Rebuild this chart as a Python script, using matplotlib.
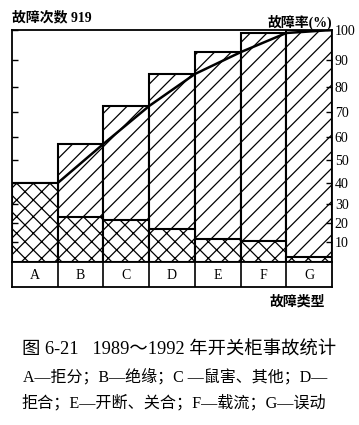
import numpy as np
import matplotlib
matplotlib.use("Agg")
import matplotlib.pyplot as plt

# fault types and shares (%)
types = ["A", "B", "C", "D", "E", "F", "G"]
share = [40, 23.2, 21.6, 16.8, 11.6, 10.5, 2.5]        # cross-hatched part
cum_pct = [40, 57, 72.4, 84.8, 92.6, 99, 100]          # cumulative curve / bar tops
total = 919

# the printed percent axis is not evenly spaced, follow its tick marks
pct_ticks = [0, 10, 20, 30, 40, 50, 60, 70, 80, 90, 100]
tick_pos = [0, 20, 39, 58, 79, 102, 125, 150, 175, 202, 232]

fam = ["Liberation Serif", "Noto Sans CJK SC"]
plt.rcParams["hatch.linewidth"] = 0.9

W, H = 359, 425
fig = plt.figure(figsize=(W / 100, H / 100), dpi=100)
ax = fig.add_axes([12 / W, 1 - 262 / H, 320 / W, 232 / H])
lab = fig.add_axes([12 / W, 1 - 287 / H, 320 / W, 25 / H])


def fwd(p):
    return np.interp(p, pct_ticks, tick_pos)


def inv(v):
    return np.interp(v, tick_pos, pct_ticks)


ax.set_yscale("function", functions=(fwd, inv))
x = np.arange(len(types))

ax.bar(x, cum_pct, width=1, facecolor="white", edgecolor="black",
       linewidth=1.5, hatch="//")
ax.bar(x, share, width=1, facecolor="white", edgecolor="black",
       linewidth=1.5, hatch="xx")
ax.plot(x + 0.5, cum_pct, color="black", lw=1.8)

ax.set_xlim(-0.5, len(types) - 0.5)
ax.set_ylim(0, 100)
ax.set_xticks([])
ax.set_yticks(pct_ticks[1:])
ax.set_yticklabels([str(t) for t in pct_ticks[1:]], family=fam, fontsize=10)
ax.tick_params(axis="y", direction="in", length=4, width=1,
               left=True, right=True, labelleft=False, labelright=True, pad=2)
for s in ax.spines.values():
    s.set_linewidth(1.3)

# category row under the bars
lab.set_xlim(-0.5, len(types) - 0.5)
lab.set_ylim(0, 1)
lab.vlines(x[:-1] + 0.5, 0, 1, color="black", lw=1.2)
for i, t in enumerate(types):
    lab.text(i, 0.45, t, ha="center", va="center", family=fam, fontsize=10)
lab.set_xticks([])
lab.set_yticks([])
for s in lab.spines.values():
    s.set_linewidth(1.3)

fig.text(12 / W, 1 - 18 / H, "故障次数 %d" % total, ha="left", va="center",
         family=fam, fontsize=10, fontweight="bold")
fig.text(332 / W, 1 - 22 / H, "故障率(%)", ha="right", va="center",
         family=fam, fontsize=10, fontweight="bold")
fig.text(325 / W, 1 - 302 / H, "故障类型", ha="right", va="center",
         family=fam, fontsize=10, fontweight="bold")

fig.text(179 / W, 1 - 350 / H, "图 6-21   1989～1992 年开关柜事故统计",
         ha="center", va="center", family=fam, fontsize=13.2)
fig.text(175 / W, 1 - 377 / H, "A—拒分；B—绝缘；C —鼠害、其他；D—",
         ha="center", va="center", family=fam, fontsize=11.5)
fig.text(174 / W, 1 - 403 / H, "拒合；E—开断、关合；F—载流；G—误动",
         ha="center", va="center", family=fam, fontsize=11.6)

fig.savefig("out.png", dpi=100)
